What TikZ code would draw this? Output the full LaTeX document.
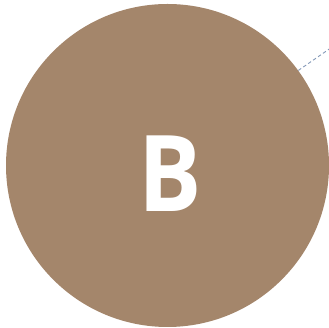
\documentclass[tikz,border=0pt]{standalone}
\usepackage{fontspec}
\setmainfont{Open Sans}
\newfontfamily\letterfont[FakeStretch=0.89]{Open Sans}
\definecolor{discbrown}{HTML}{A4866B}
\definecolor{leaderblue}{HTML}{8499B8}
\tikzset{
  disc/.style={circle, fill=discbrown, draw=none, minimum size=323pt, inner sep=0pt},
  bigletter/.style={text=white, font=\letterfont\fontsize{106}{106}\selectfont\bfseries, inner sep=0pt},
  leader/.style={draw=leaderblue, line width=0.9pt, dash pattern=on 3.5pt off 2.5pt}
}
\begin{document}
\begin{tikzpicture}[x=1pt,y=1pt]
\useasboundingbox (0,0) rectangle (329,328);
\node[disc] (c) at (167.5,162.5) {};
\coordinate (e) at (331,280.2);
\draw[leader] (c.36.6) -- (e);
\node[bigletter] (b) at (170,154) {B};
\end{tikzpicture}
\end{document}
